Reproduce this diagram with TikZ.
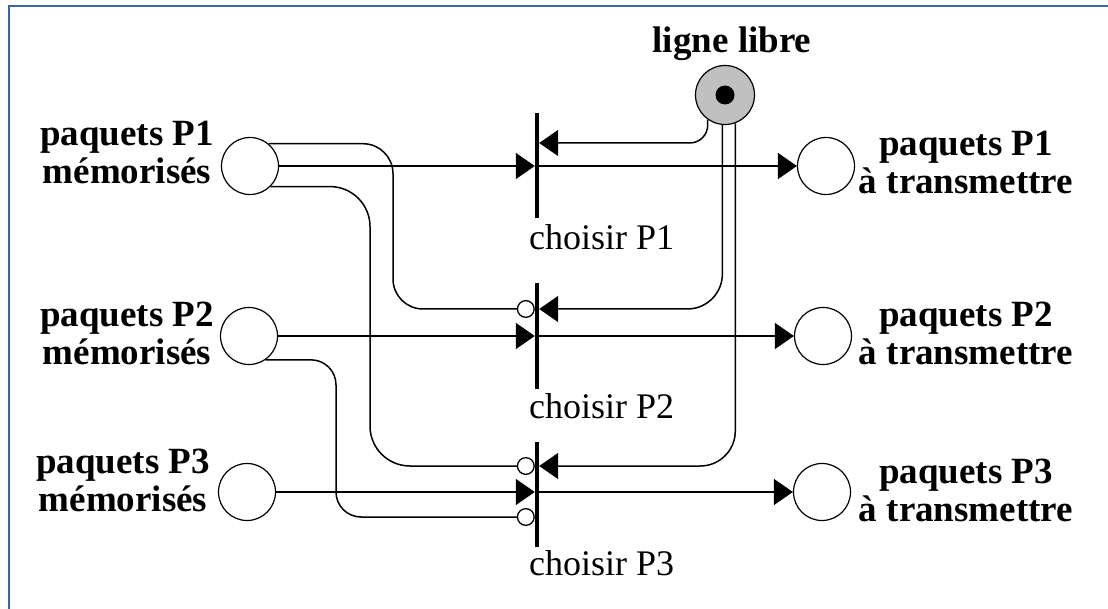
\documentclass[tikz,border=0pt]{standalone}
\usepackage{fontspec}
\setmainfont{Liberation Serif}
\usetikzlibrary{arrows.meta}
\begin{document}
\begin{tikzpicture}[x=1pt,y=-1pt,
  place/.style={circle, draw, line width=1.2pt, minimum size=57pt, inner sep=0pt},
  trans/.style={rectangle, fill=black, minimum width=4pt, minimum height=105pt, inner sep=0pt},
  arc/.style={line width=1.5pt, -{Triangle[length=19pt,width=26pt]}},
  inhib/.style={line width=1.5pt, -{Circle[open,length=18pt,width=18pt,line width=1.3pt]}},
  lbl/.style={font=\bfseries\fontsize{37}{38}\selectfont, align=center, anchor=base, inner sep=0pt},
  tlbl/.style={font=\fontsize{36}{40}\selectfont, anchor=base west, inner sep=0pt}]
\useasboundingbox (0,0) rectangle (1108,609);
\fill[white] (0,0) rectangle (1108,609);
\draw[line width=2pt, color={rgb,255:red,60;green,100;blue,165}] (9,609) -- (9,6) -- (1108,6);

% places
\node[place] (P1) at (250,166) {};
\node[place] (P2) at (249,336) {};
\node[place] (P3) at (247,492) {};
\node[place] (O1) at (826,166) {};
\node[place] (O2) at (823,336) {};
\node[place] (O3) at (822,492) {};
\node[place, fill={rgb,255:red,192;green,192;blue,192}, minimum size=59pt] (LL) at (725,95) {};
\fill (LL.center) circle (9.5pt);

% transitions
\node[trans] (T1) at (537,166) {};
\node[trans] (T2) at (537,336) {};
\node[trans] (T3) at (537,494) {};

% labels
\node[lbl] (L1) at (127,184) {paquets P1\\mémorisés};
\node[lbl] (L2) at (127,364) {paquets P2\\mémorisés};
\node[lbl] (L3) at (123,511) {paquets P3\\mémorisés};
\node[lbl] (R1) at (966,194) {paquets P1\\à transmettre};
\node[lbl] (R2) at (966,365) {paquets P2\\à transmettre};
\node[lbl] (R3) at (966,521) {paquets P3\\à transmettre};
\node[lbl] (LLl) at (732,53) {ligne libre};
\node[tlbl] (C1) at (529,250) {choisir P1};
\node[tlbl] (C2) at (529,418) {choisir P2};
\node[tlbl] (C3) at (529,575) {choisir P3};

% flow arcs
\draw[arc] (P1.east) -- (T1.west |- P1.east);
\draw[arc] (T1.center |- O1.west) -- (O1.west);
\draw[arc] (P2.east) -- (T2.west |- P2.east);
\draw[arc] (T2.center |- O2.west) -- (O2.west);
\draw[arc] (P3.east) -- (T3.west |- P3.east);
\draw[arc] (T3.center |- O3.west) -- (O3.west);

% ligne libre arcs
\coordinate (h1) at (0,143);
\coordinate (h2) at (0,309);
\coordinate (h3) at (0,466);
\coordinate (h4) at (0,517);
\draw[arc, rounded corners=18pt] (LL.235) -- (LL.235 |- h1) -- (T1.east |- h1);
\draw[arc, rounded corners=35pt] (LL.265) -- (LL.265 |- h2) -- (T2.east |- h2);
\draw[arc, rounded corners=35pt] (LL.290) -- (LL.290 |- h3) -- (T3.east |- h3);

% inhibitor arcs
\coordinate (v1) at (393,0);
\coordinate (v2) at (370,0);
\coordinate (v3) at (336,0);
\draw[inhib, rounded corners=30pt] (P1.50) -- (v1 |- P1.50) -- (v1 |- h2) -- (T2.west |- h2);
\draw[inhib, rounded corners=40pt] (P1.-45) -- (v2 |- P1.-45) -- (v2 |- h3) -- (T3.west |- h3);
\draw[inhib, rounded corners=25pt] (P2.-55) -- (v3 |- P2.-55) -- (v3 |- h4) -- (T3.west |- h4);
\end{tikzpicture}
\end{document}
